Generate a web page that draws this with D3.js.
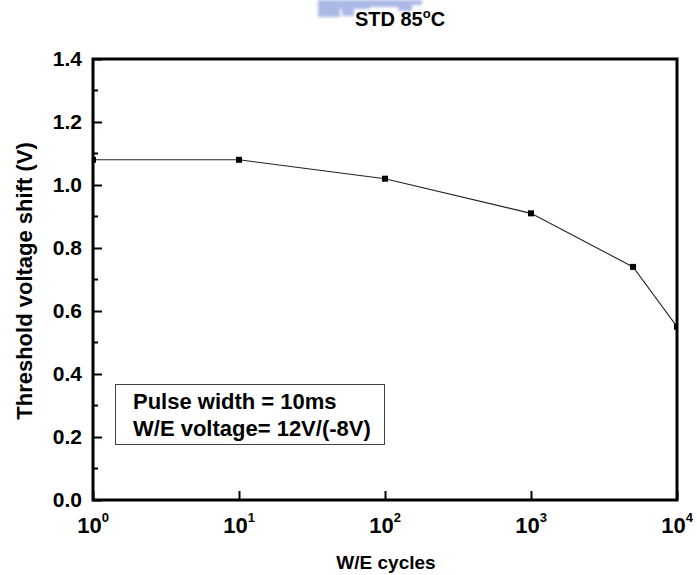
<!DOCTYPE html>
<html>
<head>
<meta charset="utf-8">
<script src="https://cdn.jsdelivr.net/npm/d3@7"></script>
<style>
  html, body { margin: 0; padding: 0; background: #fff; }
  svg text { font-family: "Liberation Sans", Arial, sans-serif; font-weight: 700; fill: #000; }
</style>
</head>
<body>
<svg id="chart" width="697" height="575"></svg>
<script>
// Threshold voltage shift after W/E cycling, STD at 85 °C
const cycles = [1, 10, 100, 1000, 5000, 10000];
const vtShift = [1.08, 1.08, 1.02, 0.91, 0.74, 0.55];
const xTickExps = [0, 1, 2, 3, 4];
const yTicks = [0.0, 0.2, 0.4, 0.6, 0.8, 1.0, 1.2, 1.4];
const yMinorTicks = [0.1, 0.3, 0.5, 0.7, 0.9, 1.1, 1.3];
const legendLines = ["Pulse width = 10ms", "W/E voltage= 12V/(-8V)"];

const svg = d3.select("#chart");
const m = { left: 93, top: 59, right: 677, bottom: 500 };

const x = d3.scaleLog().domain([1, 1e4]).range([m.left, m.right]);
const y = d3.scaleLinear().domain([0, 1.4]).range([m.bottom, m.top]);

// faint letterhead watermark at the top
const defs = svg.append("defs");
defs.append("filter").attr("id", "soft")
  .append("feGaussianBlur").attr("stdDeviation", 1.5);
const wm = svg.append("g").attr("filter", "url(#soft)").attr("fill", "#97a7e0").attr("opacity", 0.8);
[[318, 0, 22, 17], [340, 0, 30, 9], [342, 8, 12, 8], [370, 0, 28, 7], [398, 0, 14, 11], [412, 0, 10, 5]]
  .forEach(r => wm.append("rect").attr("x", r[0]).attr("y", r[1]).attr("width", r[2]).attr("height", r[3]));

// data line and square markers
const clip = defs.append("clipPath").attr("id", "plotClip");
clip.append("rect").attr("x", m.left).attr("y", m.top)
  .attr("width", m.right - m.left).attr("height", m.bottom - m.top);

const pts = cycles.map((c, i) => [c, vtShift[i]]);
const line = d3.line().x(d => x(d[0])).y(d => y(d[1]));
const plot = svg.append("g").attr("clip-path", "url(#plotClip)");
plot.append("path").attr("d", line(pts))
  .attr("fill", "none").attr("stroke", "#222").attr("stroke-width", 1.1);
plot.selectAll("rect.pt").data(pts).enter().append("rect")
  .attr("class", "pt")
  .attr("x", d => x(d[0]) - 3).attr("y", d => y(d[1]) - 3)
  .attr("width", 6).attr("height", 6).attr("fill", "#000");

// left axis with inward ticks
const yAxis = d3.axisLeft(y).tickValues(yTicks).tickSize(-9).tickPadding(11)
  .tickFormat(d3.format(".1f"));
const gy = svg.append("g").attr("transform", `translate(${m.left},0)`).call(yAxis);
gy.attr("font-family", null).attr("font-size", null);
gy.select(".domain").remove();
gy.selectAll(".tick line").attr("stroke", "#000").attr("stroke-width", 2);
gy.selectAll(".tick text").attr("font-size", 21).attr("fill", "#000");
svg.append("g").selectAll("line").data(yMinorTicks).enter().append("line")
  .attr("x1", m.left).attr("x2", m.left + 5)
  .attr("y1", d => y(d)).attr("y2", d => y(d))
  .attr("stroke", "#000").attr("stroke-width", 2);

// bottom axis with inward ticks and power-of-ten labels
const gx = svg.append("g").attr("transform", `translate(0,${m.bottom})`)
  .call(d3.axisBottom(x).tickValues(xTickExps.map(e => Math.pow(10, e))).tickSize(-9).tickFormat(""));
gx.select(".domain").remove();
gx.selectAll(".tick line").attr("stroke", "#000").attr("stroke-width", 2);
const xl = svg.append("g").selectAll("text").data(xTickExps).enter().append("text")
  .attr("x", e => x(Math.pow(10, e))).attr("y", m.bottom + 33)
  .attr("text-anchor", "middle").attr("font-size", 22);
xl.append("tspan").text("10");
xl.append("tspan").attr("dy", -11).attr("font-size", 13).text(e => e);

// frame
svg.append("rect").attr("x", m.left).attr("y", m.top)
  .attr("width", m.right - m.left).attr("height", m.bottom - m.top)
  .attr("fill", "none").attr("stroke", "#000").attr("stroke-width", 3);

// title
const t = svg.append("text").attr("x", 400).attr("y", 26)
  .attr("text-anchor", "middle").attr("font-size", 20);
t.append("tspan").text("STD 85");
t.append("tspan").attr("dy", -8).attr("font-size", 13).text("o");
t.append("tspan").attr("dy", 8).text("C");

// axis titles
svg.append("text").attr("x", 386).attr("y", 569).attr("text-anchor", "middle")
  .attr("font-size", 19).text("W/E cycles");
svg.append("text").attr("transform", "translate(32,281) rotate(-90)")
  .attr("text-anchor", "middle").attr("font-size", 22)
  .text("Threshold voltage shift (V)");

// annotation box
svg.append("rect").attr("x", 115.5).attr("y", 384.5).attr("width", 269).attr("height", 60)
  .attr("fill", "#fff").attr("stroke", "#444").attr("stroke-width", 1);
svg.append("g").selectAll("text").data(legendLines).enter().append("text")
  .attr("x", 133).attr("y", (d, i) => 409 + i * 27)
  .attr("font-size", 22).text(d => d);
</script>
</body>
</html>
